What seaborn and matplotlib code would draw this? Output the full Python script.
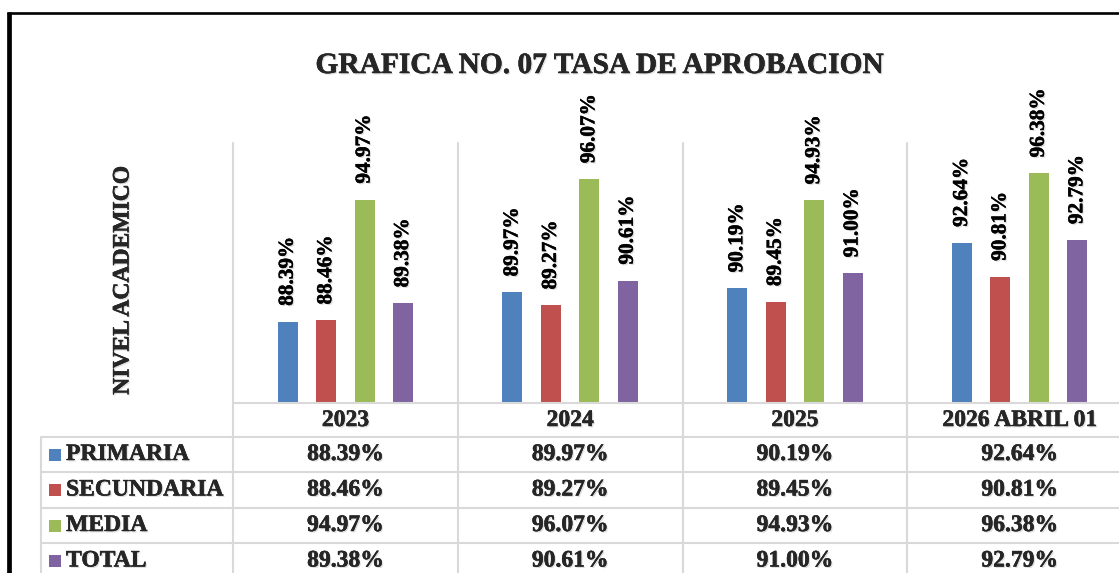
import matplotlib
matplotlib.use("Agg")
import matplotlib.pyplot as plt
import matplotlib.patheffects as pe
from matplotlib.transforms import blended_transform_factory
from matplotlib.lines import Line2D
from matplotlib.patches import Rectangle
import seaborn as sns
import pandas as pd

# ---------------- data ----------------
categories = ["2023", "2024", "2025", "2026 ABRIL 01"]
series = ["PRIMARIA", "SECUNDARIA", "MEDIA", "TOTAL"]
primaria = [88.39, 89.97, 90.19, 92.64]
secundaria = [88.46, 89.27, 89.45, 90.81]
media = [94.97, 96.07, 94.93, 96.38]
total = [89.38, 90.61, 91.00, 92.79]
colors = ["#4F81BD", "#C0504D", "#9BBB59", "#8064A2"]
title = "GRAFICA NO. 07 TASA DE APROBACION"
ylabel = "NIVEL ACADEMICO"

values = [primaria, secundaria, media, total]
df = pd.DataFrame(
    [(c, s, v) for s, vals in zip(series, values) for c, v in zip(categories, vals)],
    columns=["anio", "nivel", "valor"],
)

sns.set_theme(style="white")
plt.rcParams["font.family"] = ["Liberation Serif", "DejaVu Serif"]
plt.rcParams["font.weight"] = "bold"

W, H = 1119, 573
fig = plt.figure(figsize=(W / 100, H / 100), dpi=100)
fig.patch.set_facecolor("white")

AX_L, AX_R, AX_T, AX_B = 233, 1132, 143.3, 403.3
ax = fig.add_axes([AX_L / W, (H - AX_B) / H, (AX_R - AX_L) / W, (AX_B - AX_T) / H])

sns.barplot(data=df, x="anio", y="valor", hue="nivel", hue_order=series,
            order=categories, palette=colors, width=0.684, gap=0.48,
            legend=False, ax=ax, saturation=1, edgecolor="none")
ax.set_ylim(84, 98)
ax.set_xlim(-0.5, 3.5)
ax.set_xlabel("")
ax.set_ylabel("")
ax.set_xticks([])
ax.set_yticks([])
for sp in ax.spines.values():
    sp.set_visible(False)

shadow = [pe.SimplePatchShadow(offset=(1.0, -1.0), shadow_rgbFace="#8f8f8f", alpha=0.3),
          pe.Stroke(linewidth=0.3, foreground="black"), pe.Normal()]

for cont, vals in zip(ax.containers, values):
    ax.bar_label(cont, labels=[f"{v:.2f}%" for v in vals], padding=11.5,
                 rotation=90, fontsize=15.3, fontweight="bold", color="black",
                 path_effects=shadow)

grid_c = "#d9d9d9"
lw = 1.5

def fy(y):
    return 1 - y / H

def fx(x):
    return x / W

trans_x = blended_transform_factory(ax.transData, fig.transFigure)

# vertical category separators (plot + table)
for b in [-0.5, 0.5, 1.5, 2.5, 3.5]:
    fig.add_artist(Line2D([b, b], [fy(AX_T), fy(H + 5)], transform=trans_x,
                          color=grid_c, lw=lw, clip_on=False))

# table horizontal lines
row_lines = [437, 472, 508, 543.3, 579]
fig.add_artist(Line2D([-0.5, 3.5], [fy(AX_B), fy(AX_B)], transform=trans_x,
                      color=grid_c, lw=lw))
for y in row_lines:
    fig.add_artist(Line2D([fx(41), fx(AX_R)], [fy(y), fy(y)], transform=fig.transFigure,
                          color=grid_c, lw=lw))
fig.add_artist(Line2D([fx(41), fx(41)], [fy(437), fy(H + 5)], transform=fig.transFigure,
                      color=grid_c, lw=lw))

# header row: categories
for i, c in enumerate(categories):
    fig.text(i, fy(420.5), c, transform=trans_x, ha="center", va="center",
             fontsize=17, fontweight="bold", path_effects=shadow)

# table rows
row_centers = [454.5, 490, 525.5, 561]
for s, vals, col, yc in zip(series, values, colors, row_centers):
    fig.patches.append(Rectangle((fx(49), fy(yc + 6)), 12 / W, 12 / H,
                                 transform=fig.transFigure, facecolor=col,
                                 edgecolor="none", figure=fig))
    fig.text(fx(66), fy(yc), s, ha="left", va="center", fontsize=17,
             fontweight="bold", path_effects=shadow)
    for i, v in enumerate(vals):
        fig.text(i, fy(yc), f"{v:.2f}%", transform=trans_x, ha="center",
                 va="center", fontsize=17, fontweight="bold", path_effects=shadow)

# title & y label
fig.text(fx(599), fy(65.5), title, ha="center", va="center", fontsize=21.2,
         fontweight="bold", path_effects=shadow)
fig.text(fx(123), fy(280.5), ylabel, ha="center", va="center", rotation=90,
         fontsize=17, fontweight="bold", path_effects=shadow)

# outer black frame (left and top)
fig.add_artist(Line2D([fx(9.2), fx(9.2)], [fy(12), fy(H + 5)], transform=fig.transFigure,
                      color="black", lw=3.4, solid_capstyle="butt"))
fig.add_artist(Line2D([fx(7), fx(W + 5)], [fy(12.9), fy(12.9)], transform=fig.transFigure,
                      color="black", lw=1.9, solid_capstyle="butt"))

fig.savefig("out.png", dpi=100)
